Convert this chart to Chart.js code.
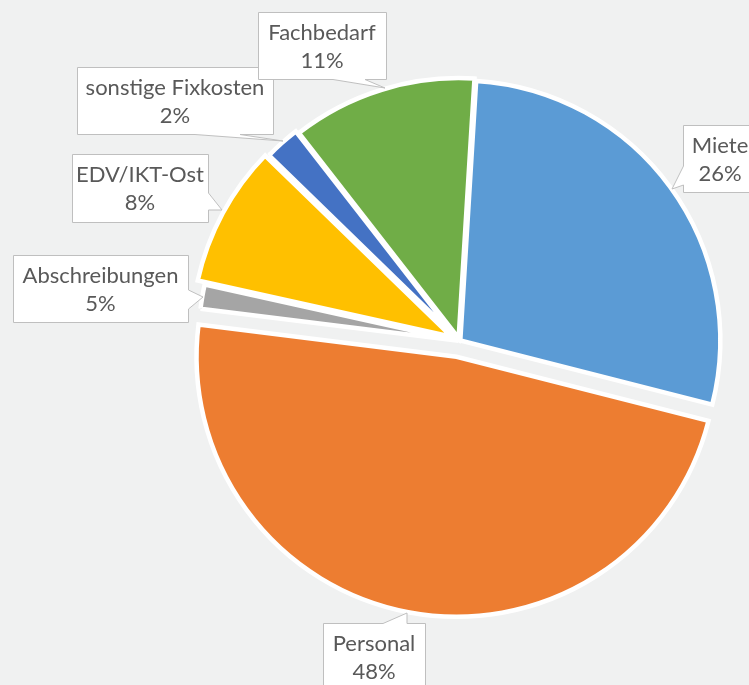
<!DOCTYPE html>
<html>
<head>
<meta charset="utf-8">
<script src="https://cdn.jsdelivr.net/npm/chart.js@4.4.0/dist/chart.umd.min.js"></script>
<style>
  html, body { margin: 0; padding: 0; background: #f0f1f1; }
  canvas { display: block; }
</style>
</head>
<body>
<canvas id="chart" width="749" height="685"></canvas>
<script>
// categories, clockwise from the top
var categories = ["Miete", "Personal", "Abschreibungen", "EDV/IKT-Ost", "sonstige Fixkosten", "Fachbedarf"];
// slice sizes as drawn in the picture (percent of the circle)
var shares = [28.0, 48.0, 1.5, 8.8, 2.2, 11.5];
// percentages printed in the callouts
var percentLabels = ["26%", "48%", "5%", "8%", "2%", "11%"];
var colours = ["#5b9bd5", "#ed7d31", "#a5a5a5", "#ffc000", "#4472c4", "#70ad47"];

// how far each slice is pulled out of the pie (px)
var explodePx = [1, 16, 1, 9, 6, 3];

// callout boxes: [left, top, right, bottom], side with the pointer, pointer base, tip
var callouts = [
    { box: [683, 125, 757, 192], side: "left",   base: [166, 185], tip: [672, 189] },
    { box: [323, 623, 425, 700], side: "top",    base: [383, 407], tip: [407, 613] },
    { box: [13, 255, 188, 322],  side: "right",  base: [290, 309], tip: [203, 297] },
    { box: [72, 154, 208, 222],  side: "right",  base: [193, 210], tip: [222, 210] },
    { box: [77, 67, 273, 134],   side: "bottom", base: [195, 240], tip: [283, 141] },
    { box: [258, 12, 386, 79],   side: "bottom", base: [333, 365], tip: [385, 88] }
];

// move each arc outwards along its middle angle
var explode = {
    id: "explode",
    afterDatasetsUpdate: function(chart) {
        var arcs = chart.getDatasetMeta(0).data;
        arcs.forEach(function(a, i) {
            var mid = (a.startAngle + a.endAngle) / 2;
            a.x += Math.cos(mid) * explodePx[i];
            a.y += Math.sin(mid) * explodePx[i];
        });
    }
};

function calloutPath(ctx, c) {
    var l = c.box[0] + 0.5, t = c.box[1] + 0.5, r = c.box[2] + 0.5, b = c.box[3] + 0.5;
    ctx.beginPath();
    ctx.moveTo(l, t);
    if (c.side == "top") {
        ctx.lineTo(c.base[0], t); ctx.lineTo(c.tip[0], c.tip[1]); ctx.lineTo(c.base[1], t);
    }
    ctx.lineTo(r, t);
    if (c.side == "right") {
        ctx.lineTo(r, c.base[0]); ctx.lineTo(c.tip[0], c.tip[1]); ctx.lineTo(r, c.base[1]);
    }
    ctx.lineTo(r, b);
    if (c.side == "bottom") {
        ctx.lineTo(c.base[1], b); ctx.lineTo(c.tip[0], c.tip[1]); ctx.lineTo(c.base[0], b);
    }
    ctx.lineTo(l, b);
    if (c.side == "left") {
        ctx.lineTo(l, c.base[1]); ctx.lineTo(c.tip[0], c.tip[1]); ctx.lineTo(l, c.base[0]);
    }
    ctx.closePath();
}

var calloutLabels = {
    id: "calloutLabels",
    afterDatasetsDraw: function(chart) {
        var ctx = chart.ctx;
        ctx.save();
        callouts.forEach(function(c, i) {
            calloutPath(ctx, c);
            ctx.fillStyle = "#ffffff";
            ctx.fill();
            ctx.lineWidth = 1;
            ctx.strokeStyle = "#bfbfbf";
            ctx.stroke();

            var cx = (c.box[0] + c.box[2]) / 2;
            ctx.fillStyle = "#595959";
            ctx.font = "22px Lato";
            ctx.textAlign = "center";
            ctx.textBaseline = "middle";
            ctx.fillText(categories[i], cx, c.box[1] + 20.5);
            ctx.fillText(percentLabels[i], cx, c.box[1] + 49);
        });
        ctx.restore();
    }
};

var chart = new Chart("chart", {
    type: "pie",
    data: {
        labels: categories,
        datasets: [{
            data: shares,
            backgroundColor: colours,
            borderColor: "#ffffff",
            borderWidth: 4.5,
            borderJoinStyle: "miter"
        }]
    },
    options: {
        responsive: false,
        animation: false,
        rotation: 3.5,
        radius: 260,
        layout: { padding: { left: 170, right: 0, top: 0, bottom: 3 } },
        plugins: {
            legend: { display: false },
            tooltip: { enabled: false }
        }
    },
    plugins: [explode, calloutLabels]
});
</script>
</body>
</html>
